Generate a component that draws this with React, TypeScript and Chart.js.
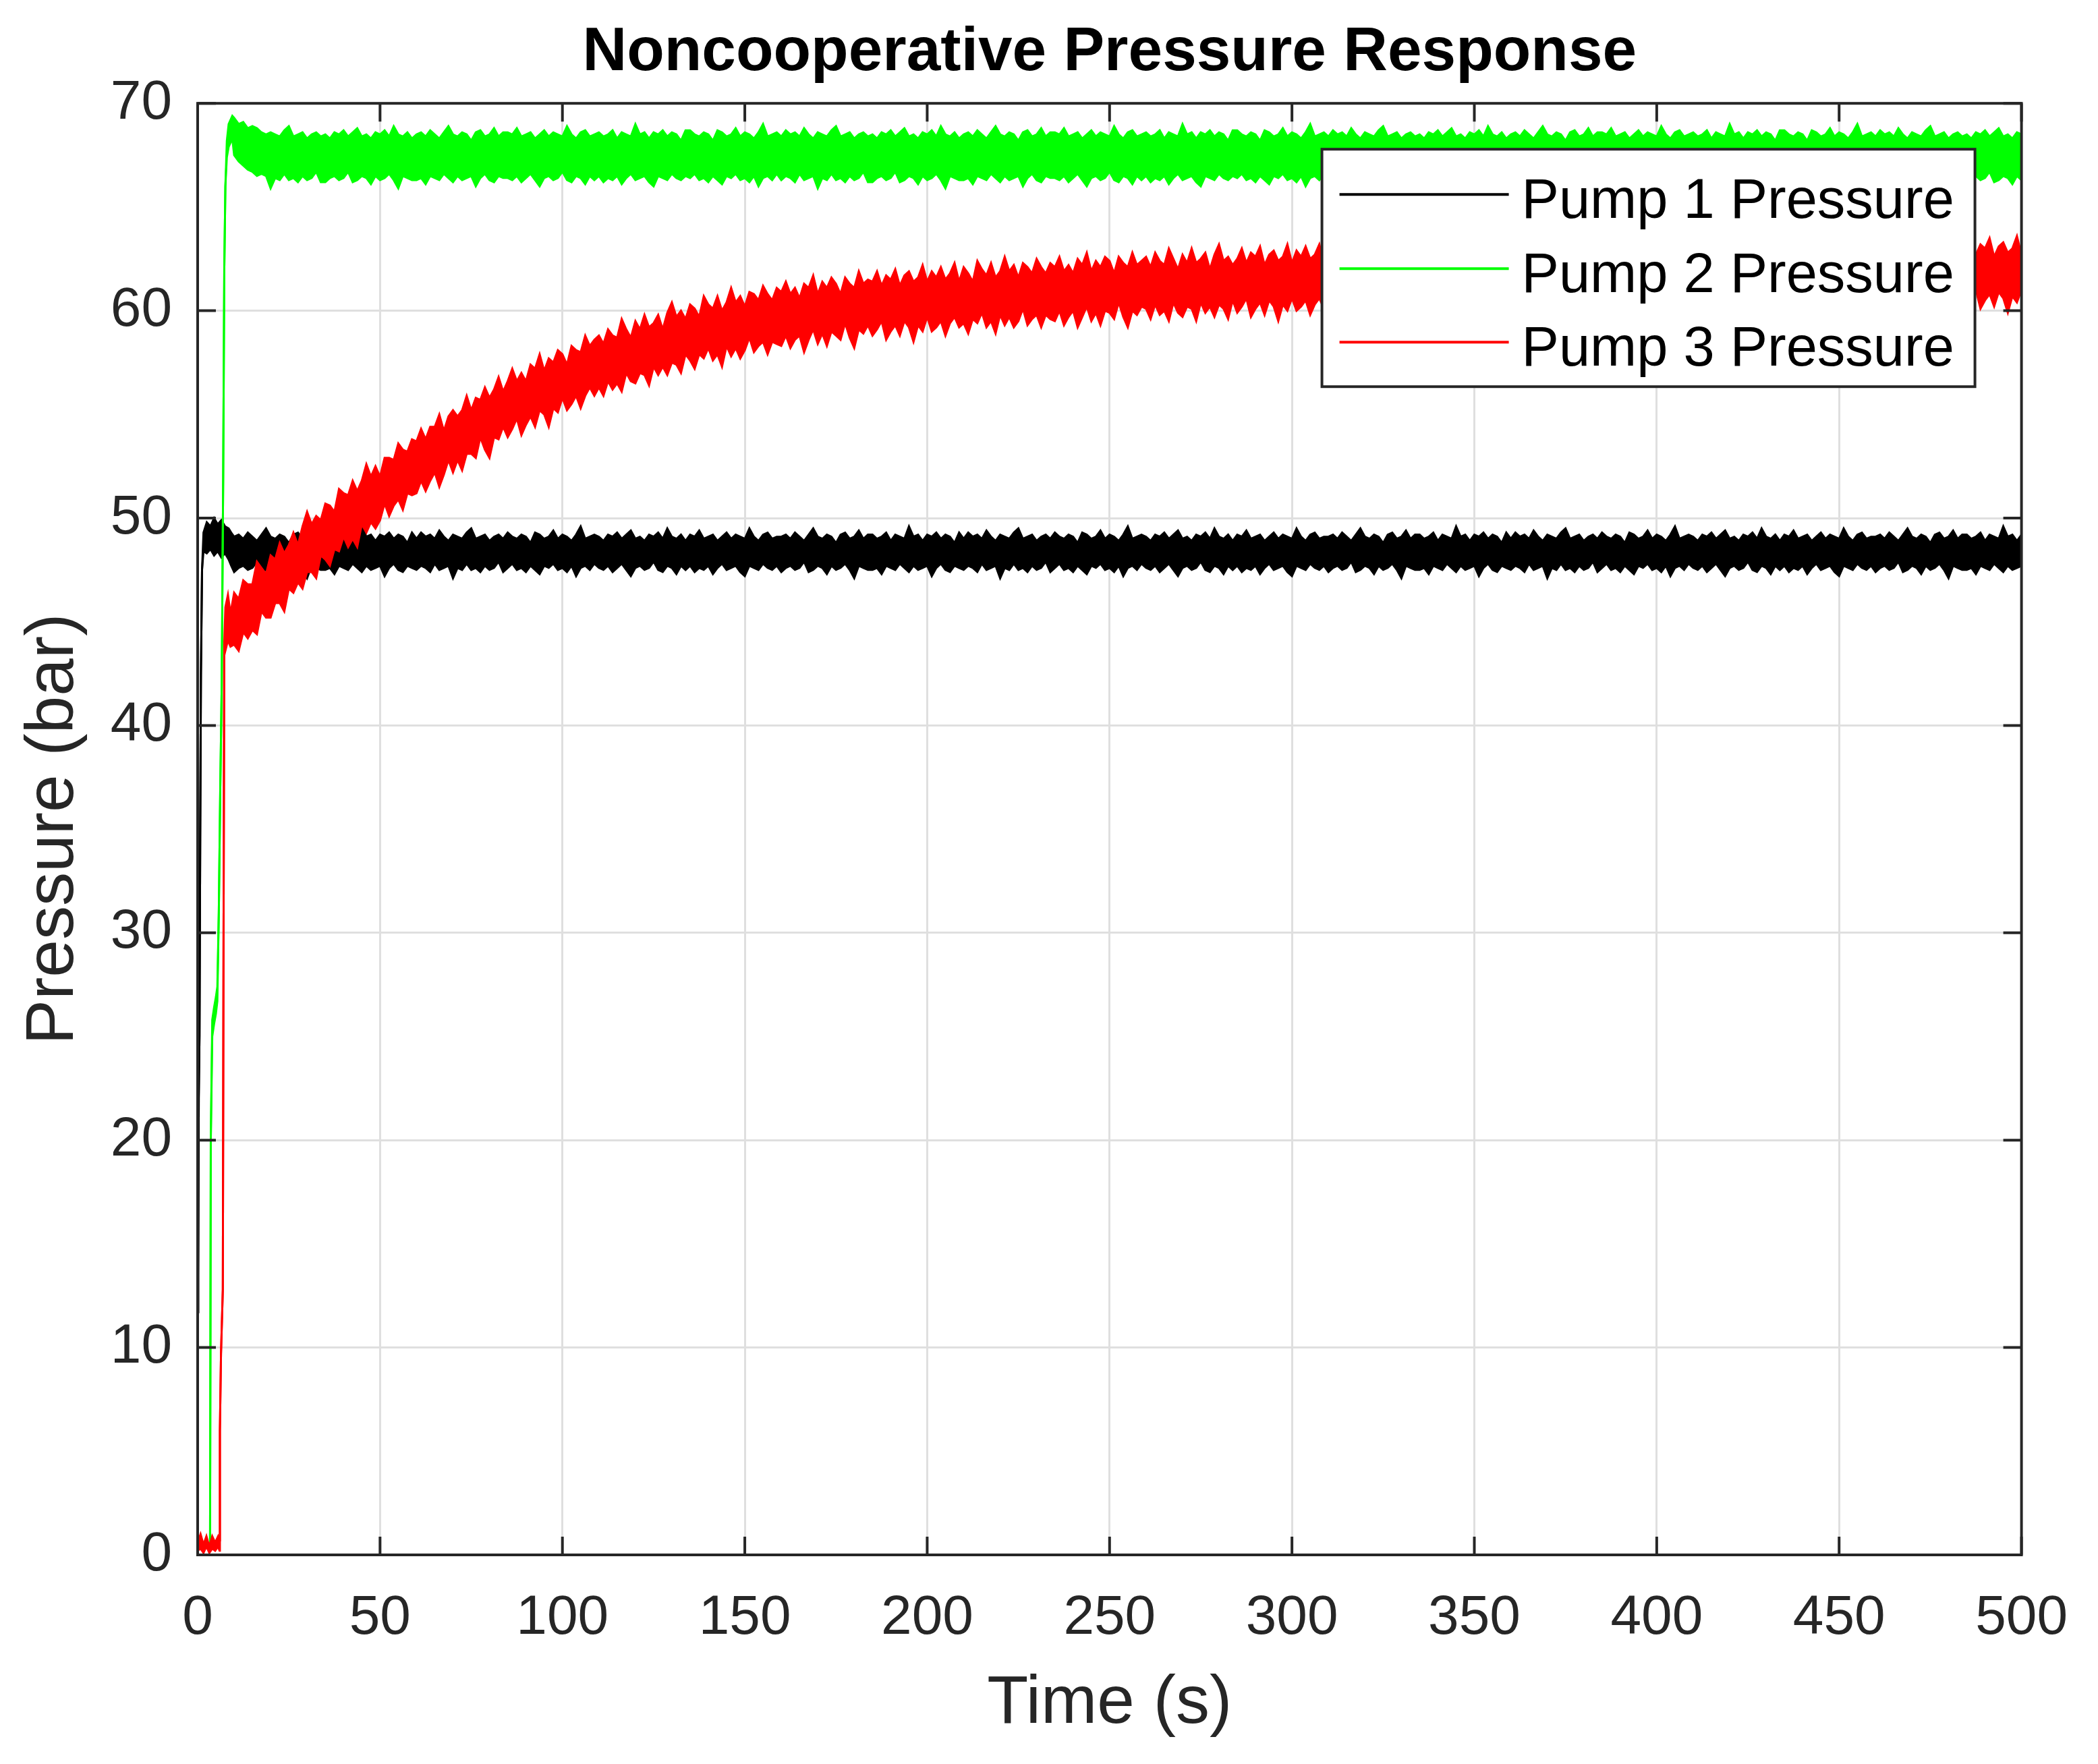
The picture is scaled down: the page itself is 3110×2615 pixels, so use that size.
import { useEffect, useRef } from "react";
import { Chart, registerables } from "chart.js";

Chart.register(...registerables);

const fontFamily = "'Liberation Sans', Arial, Helvetica, sans-serif";
const axisColor = "#262626";
const gridColor = "#dfdfdf";

const seriesNames = ["Pump 1 Pressure", "Pump 2 Pressure", "Pump 3 Pressure"];
const seriesColors = ["#000000", "#00ff00", "#ff0000"];

const xTicks = [0, 50, 100, 150, 200, 250, 300, 350, 400, 450, 500];
const yTicks = [0, 10, 20, 30, 40, 50, 60, 70];

// start-up transients (s, bar): upper / lower edge of the trace
const pump1StartTime = [0, 0.15, 0.3, 0.5, 0.7, 0.9, 1.2, 1.6, 2.5, 3.5, 4.5, 5.5, 6.5, 7.5, 8.5, 9.2];
const pump1StartUpper = [11.7, 13.5, 22, 25, 34.5, 42.5, 47.5, 49.3, 49.8, 49.6, 50.0, 49.7, 49.9, 49.6, 49.5, 49.3];
const pump1StartLower = [11.7, 13.5, 22, 25, 34.5, 42.5, 47.5, 48.4, 48.3, 48.5, 48.2, 48.4, 48.1, 48.3, 48.0, 47.7];

const pump2StartTime = [0, 3.4, 3.6, 4.0, 4.5, 5.0, 5.4, 5.8, 6.2, 6.6, 7.0, 7.3, 7.6, 8.0, 8.5, 9.0, 9.5];
const pump2StartUpper = [0.4, 0.4, 20, 25.8, 26.4, 26.9, 27.4, 31, 37, 42, 52, 62, 66, 68.2, 69.0, 69.2, 69.4];
const pump2StartLower = [0.4, 0.4, 20, 25.0, 25.6, 26.1, 26.7, 31, 37, 42, 52, 62, 66, 67.4, 67.9, 68.1, 68.3];

const pump3StartTime = [0, 0.8, 1.6, 2.4, 3.2, 4.0, 4.8, 5.6, 6.0, 6.1, 6.4, 6.9, 7.1, 7.3, 7.6, 8.3, 9.0];
const pump3StartUpper = [0.6, 1.0, 0.5, 0.9, 0.4, 0.9, 0.6, 0.9, 0.7, 6, 9.7, 12.8, 30, 44, 45.7, 46.3, 45.4];
const pump3StartLower = [0.2, 0.3, 0.1, 0.4, 0.1, 0.3, 0.2, 0.4, 0.2, 6, 9.7, 12.8, 30, 44, 43.6, 44.1, 43.8];

// noisy part, one value every 1.25 s from t = 10 s to t = 500 s (20 values = 25 s per row)
const bandStart = 10;
const bandStep = 1.25;

const pump1Upper = [
  49.1, 49.2, 49.0, 49.3, 49.1, 48.9, 49.2, 49.5, 49.1, 49.0, 49.2, 49.1, 48.8, 49.2, 49.3, 49.0, 49.1, 49.4, 49.0, 49.2,
  49.2, 49.0, 49.1, 49.3, 48.9, 49.2, 49.1, 49.0, 49.6, 49.1, 49.2, 48.9, 49.2, 49.1, 49.3, 49.0, 49.2, 49.1, 48.8, 49.3,
  49.0, 49.3, 49.1, 49.2, 49.0, 49.4, 49.1, 48.9, 49.2, 49.1, 49.0, 49.3, 49.5, 49.0, 49.1, 49.2, 48.9, 49.1, 49.2, 49.0,
  49.3, 49.1, 49.0, 49.2, 49.1, 48.8, 49.3, 49.2, 49.0, 49.1, 49.4, 49.0, 49.2, 49.1, 48.9, 49.2, 49.6, 49.0, 49.1, 49.2,
  49.1, 48.9, 49.2, 49.1, 49.3, 49.0, 49.2, 49.4, 49.0, 49.1, 48.9, 49.2, 49.1, 49.3, 49.0, 49.5, 49.1, 49.0, 49.2, 48.9,
  49.2, 49.1, 49.4, 49.0, 49.1, 49.2, 48.9, 49.1, 49.3, 49.0, 49.2, 49.1, 49.0, 49.5, 49.1, 48.9, 49.2, 49.3, 49.0, 49.1,
  49.1, 49.2, 49.0, 49.3, 49.1, 48.9, 49.2, 49.5, 49.1, 49.0, 49.2, 49.1, 48.8, 49.2, 49.3, 49.0, 49.1, 49.4, 49.0, 49.2,
  49.2, 49.0, 49.1, 49.3, 48.9, 49.2, 49.1, 49.0, 49.6, 49.1, 49.2, 48.9, 49.2, 49.1, 49.3, 49.0, 49.2, 49.1, 48.8, 49.3,
  49.0, 49.3, 49.1, 49.2, 49.0, 49.4, 49.1, 48.9, 49.2, 49.1, 49.0, 49.3, 49.5, 49.0, 49.1, 49.2, 48.9, 49.1, 49.2, 49.0,
  49.3, 49.1, 49.0, 49.2, 49.1, 48.8, 49.3, 49.2, 49.0, 49.1, 49.4, 49.0, 49.2, 49.1, 48.9, 49.2, 49.6, 49.0, 49.1, 49.2,
  49.1, 48.9, 49.2, 49.1, 49.3, 49.0, 49.2, 49.4, 49.0, 49.1, 48.9, 49.2, 49.1, 49.3, 49.0, 49.5, 49.1, 49.0, 49.2, 48.9,
  49.2, 49.1, 49.4, 49.0, 49.1, 49.2, 48.9, 49.1, 49.3, 49.0, 49.2, 49.1, 49.0, 49.5, 49.1, 48.9, 49.2, 49.3, 49.0, 49.1,
  49.1, 49.2, 49.0, 49.3, 49.1, 48.9, 49.2, 49.5, 49.1, 49.0, 49.2, 49.1, 48.8, 49.2, 49.3, 49.0, 49.1, 49.4, 49.0, 49.2,
  49.2, 49.0, 49.1, 49.3, 48.9, 49.2, 49.1, 49.0, 49.6, 49.1, 49.2, 48.9, 49.2, 49.1, 49.3, 49.0, 49.2, 49.1, 48.8, 49.3,
  49.0, 49.3, 49.1, 49.2, 49.0, 49.4, 49.1, 48.9, 49.2, 49.1, 49.0, 49.3, 49.5, 49.0, 49.1, 49.2, 48.9, 49.1, 49.2, 49.0,
  49.3, 49.1, 49.0, 49.2, 49.1, 48.8, 49.3, 49.2, 49.0, 49.1, 49.4, 49.0, 49.2, 49.1, 48.9, 49.2, 49.6, 49.0, 49.1, 49.2,
  49.1, 48.9, 49.2, 49.1, 49.3, 49.0, 49.2, 49.4, 49.0, 49.1, 48.9, 49.2, 49.1, 49.3, 49.0, 49.5, 49.1, 49.0, 49.2, 48.9,
  49.2, 49.1, 49.4, 49.0, 49.1, 49.2, 48.9, 49.1, 49.3, 49.0, 49.2, 49.1, 49.0, 49.5, 49.1, 48.9, 49.2, 49.3, 49.0, 49.1,
  49.1, 49.2, 49.0, 49.3, 49.1, 48.9, 49.2, 49.5, 49.1, 49.0, 49.2, 49.1, 48.8, 49.2, 49.3, 49.0, 49.1, 49.4, 49.0, 49.2,
  49.2, 49.0, 49.1, 49.3, 48.9, 49.2, 49.1, 49.0, 49.6, 49.1, 49.2, 48.9, 49.2,
];
const pump1Lower = [
  47.4, 47.6, 47.7, 47.5, 47.6, 47.9, 47.4, 47.5, 47.7, 47.6, 47.3, 47.7, 47.5, 47.6, 47.8, 47.5, 47.1, 47.7, 47.6, 47.5,
  47.5, 47.6, 47.3, 47.7, 47.6, 47.5, 47.8, 47.6, 47.4, 47.7, 47.5, 47.6, 47.7, 47.2, 47.6, 47.8, 47.5, 47.4, 47.7, 47.6,
  47.5, 47.7, 47.6, 47.4, 47.8, 47.5, 47.6, 47.7, 47.1, 47.6, 47.5, 47.8, 47.5, 47.6, 47.4, 47.7, 47.5, 47.6, 47.9, 47.4,
  47.6, 47.8, 47.5, 47.6, 47.4, 47.7, 47.5, 47.3, 47.7, 47.6, 47.8, 47.5, 47.6, 47.4, 47.7, 47.2, 47.6, 47.7, 47.5, 47.8,
  47.6, 47.5, 47.7, 47.4, 47.6, 47.8, 47.5, 47.2, 47.6, 47.7, 47.5, 47.6, 47.9, 47.5, 47.4, 47.7, 47.6, 47.3, 47.7, 47.5,
  47.7, 47.4, 47.6, 47.5, 47.7, 47.3, 47.6, 47.8, 47.5, 47.6, 47.7, 47.4, 47.2, 47.7, 47.6, 47.5, 47.8, 47.6, 47.5, 47.7,
  47.4, 47.6, 47.7, 47.5, 47.6, 47.9, 47.4, 47.5, 47.7, 47.6, 47.3, 47.7, 47.5, 47.6, 47.8, 47.5, 47.1, 47.7, 47.6, 47.5,
  47.5, 47.6, 47.3, 47.7, 47.6, 47.5, 47.8, 47.6, 47.4, 47.7, 47.5, 47.6, 47.7, 47.2, 47.6, 47.8, 47.5, 47.4, 47.7, 47.6,
  47.5, 47.7, 47.6, 47.4, 47.8, 47.5, 47.6, 47.7, 47.1, 47.6, 47.5, 47.8, 47.5, 47.6, 47.4, 47.7, 47.5, 47.6, 47.9, 47.4,
  47.6, 47.8, 47.5, 47.6, 47.4, 47.7, 47.5, 47.3, 47.7, 47.6, 47.8, 47.5, 47.6, 47.4, 47.7, 47.2, 47.6, 47.7, 47.5, 47.8,
  47.6, 47.5, 47.7, 47.4, 47.6, 47.8, 47.5, 47.2, 47.6, 47.7, 47.5, 47.6, 47.9, 47.5, 47.4, 47.7, 47.6, 47.3, 47.7, 47.5,
  47.7, 47.4, 47.6, 47.5, 47.7, 47.3, 47.6, 47.8, 47.5, 47.6, 47.7, 47.4, 47.2, 47.7, 47.6, 47.5, 47.8, 47.6, 47.5, 47.7,
  47.4, 47.6, 47.7, 47.5, 47.6, 47.9, 47.4, 47.5, 47.7, 47.6, 47.3, 47.7, 47.5, 47.6, 47.8, 47.5, 47.1, 47.7, 47.6, 47.5,
  47.5, 47.6, 47.3, 47.7, 47.6, 47.5, 47.8, 47.6, 47.4, 47.7, 47.5, 47.6, 47.7, 47.2, 47.6, 47.8, 47.5, 47.4, 47.7, 47.6,
  47.5, 47.7, 47.6, 47.4, 47.8, 47.5, 47.6, 47.7, 47.1, 47.6, 47.5, 47.8, 47.5, 47.6, 47.4, 47.7, 47.5, 47.6, 47.9, 47.4,
  47.6, 47.8, 47.5, 47.6, 47.4, 47.7, 47.5, 47.3, 47.7, 47.6, 47.8, 47.5, 47.6, 47.4, 47.7, 47.2, 47.6, 47.7, 47.5, 47.8,
  47.6, 47.5, 47.7, 47.4, 47.6, 47.8, 47.5, 47.2, 47.6, 47.7, 47.5, 47.6, 47.9, 47.5, 47.4, 47.7, 47.6, 47.3, 47.7, 47.5,
  47.7, 47.4, 47.6, 47.5, 47.7, 47.3, 47.6, 47.8, 47.5, 47.6, 47.7, 47.4, 47.2, 47.7, 47.6, 47.5, 47.8, 47.6, 47.5, 47.7,
  47.4, 47.6, 47.7, 47.5, 47.6, 47.9, 47.4, 47.5, 47.7, 47.6, 47.3, 47.7, 47.5, 47.6, 47.8, 47.5, 47.1, 47.7, 47.6, 47.5,
  47.5, 47.6, 47.3, 47.7, 47.6, 47.5, 47.8, 47.6, 47.4, 47.7, 47.5, 47.6, 47.7,
];

const pump2Upper = [
  69.3, 69.0, 69.1, 68.8, 68.9, 68.8, 68.6, 68.5, 68.6, 68.5, 68.4, 68.7, 68.9, 68.4, 68.5, 68.6, 68.3, 68.5, 68.6, 68.4,
  68.5, 68.3, 68.6, 68.5, 68.7, 68.4, 68.6, 68.8, 68.4, 68.5, 68.3, 68.6, 68.5, 68.7, 68.4, 68.9, 68.5, 68.4, 68.6, 68.3,
  68.5, 68.6, 68.4, 68.7, 68.5, 68.3, 68.6, 68.9, 68.5, 68.4, 68.6, 68.5, 68.2, 68.6, 68.7, 68.4, 68.5, 68.8, 68.4, 68.6,
  68.6, 68.5, 68.8, 68.4, 68.5, 68.6, 68.3, 68.5, 68.7, 68.4, 68.6, 68.5, 68.4, 68.9, 68.5, 68.3, 68.6, 68.7, 68.4, 68.5,
  68.6, 68.4, 68.5, 68.7, 68.3, 68.6, 68.5, 68.4, 69.0, 68.5, 68.6, 68.3, 68.6, 68.5, 68.7, 68.4, 68.6, 68.5, 68.2, 68.7,
  68.7, 68.5, 68.4, 68.6, 68.5, 68.2, 68.7, 68.6, 68.4, 68.5, 68.8, 68.4, 68.6, 68.5, 68.3, 68.6, 69.0, 68.4, 68.5, 68.6,
  68.4, 68.7, 68.5, 68.6, 68.4, 68.8, 68.5, 68.3, 68.6, 68.5, 68.4, 68.7, 68.9, 68.4, 68.5, 68.6, 68.3, 68.5, 68.6, 68.4,
  68.5, 68.3, 68.6, 68.5, 68.7, 68.4, 68.6, 68.8, 68.4, 68.5, 68.3, 68.6, 68.5, 68.7, 68.4, 68.9, 68.5, 68.4, 68.6, 68.3,
  68.5, 68.6, 68.4, 68.7, 68.5, 68.3, 68.6, 68.9, 68.5, 68.4, 68.6, 68.5, 68.2, 68.6, 68.7, 68.4, 68.5, 68.8, 68.4, 68.6,
  68.6, 68.5, 68.8, 68.4, 68.5, 68.6, 68.3, 68.5, 68.7, 68.4, 68.6, 68.5, 68.4, 68.9, 68.5, 68.3, 68.6, 68.7, 68.4, 68.5,
  68.6, 68.4, 68.5, 68.7, 68.3, 68.6, 68.5, 68.4, 69.0, 68.5, 68.6, 68.3, 68.6, 68.5, 68.7, 68.4, 68.6, 68.5, 68.2, 68.7,
  68.7, 68.5, 68.4, 68.6, 68.5, 68.2, 68.7, 68.6, 68.4, 68.5, 68.8, 68.4, 68.6, 68.5, 68.3, 68.6, 69.0, 68.4, 68.5, 68.6,
  68.4, 68.7, 68.5, 68.6, 68.4, 68.8, 68.5, 68.3, 68.6, 68.5, 68.4, 68.7, 68.9, 68.4, 68.5, 68.6, 68.3, 68.5, 68.6, 68.4,
  68.5, 68.3, 68.6, 68.5, 68.7, 68.4, 68.6, 68.8, 68.4, 68.5, 68.3, 68.6, 68.5, 68.7, 68.4, 68.9, 68.5, 68.4, 68.6, 68.3,
  68.5, 68.6, 68.4, 68.7, 68.5, 68.3, 68.6, 68.9, 68.5, 68.4, 68.6, 68.5, 68.2, 68.6, 68.7, 68.4, 68.5, 68.8, 68.4, 68.6,
  68.6, 68.5, 68.8, 68.4, 68.5, 68.6, 68.3, 68.5, 68.7, 68.4, 68.6, 68.5, 68.4, 68.9, 68.5, 68.3, 68.6, 68.7, 68.4, 68.5,
  68.6, 68.4, 68.5, 68.7, 68.3, 68.6, 68.5, 68.4, 69.0, 68.5, 68.6, 68.3, 68.6, 68.5, 68.7, 68.4, 68.6, 68.5, 68.2, 68.7,
  68.7, 68.5, 68.4, 68.6, 68.5, 68.2, 68.7, 68.6, 68.4, 68.5, 68.8, 68.4, 68.6, 68.5, 68.3, 68.6, 69.0, 68.4, 68.5, 68.6,
  68.4, 68.7, 68.5, 68.6, 68.4, 68.8, 68.5, 68.3, 68.6, 68.5, 68.4, 68.7, 68.9, 68.4, 68.5, 68.6, 68.3, 68.5, 68.6, 68.4,
  68.5, 68.3, 68.6, 68.5, 68.7, 68.4, 68.6, 68.8, 68.4, 68.5, 68.3, 68.6, 68.5,
];
const pump2Lower = [
  67.5, 67.2, 67.0, 66.8, 66.7, 66.5, 66.6, 66.5, 65.9, 66.4, 66.3, 66.6, 66.3, 66.4, 66.2, 66.5, 66.3, 66.4, 66.7, 66.2,
  66.2, 66.4, 66.5, 66.3, 66.4, 66.7, 66.2, 66.3, 66.5, 66.4, 66.1, 66.5, 66.3, 66.4, 66.6, 66.3, 65.9, 66.5, 66.4, 66.3,
  66.3, 66.4, 66.1, 66.5, 66.4, 66.3, 66.6, 66.4, 66.2, 66.5, 66.3, 66.4, 66.5, 66.0, 66.4, 66.6, 66.3, 66.2, 66.5, 66.4,
  66.4, 66.3, 66.5, 66.2, 66.4, 66.6, 66.3, 66.0, 66.4, 66.5, 66.3, 66.4, 66.7, 66.3, 66.2, 66.5, 66.4, 66.1, 66.5, 66.3,
  66.5, 66.2, 66.4, 66.3, 66.5, 66.1, 66.4, 66.6, 66.3, 66.4, 66.5, 66.2, 66.0, 66.5, 66.4, 66.3, 66.6, 66.4, 66.3, 66.5,
  66.4, 66.6, 66.3, 66.4, 66.2, 66.5, 66.3, 66.1, 66.5, 66.4, 66.6, 66.3, 66.4, 66.2, 66.5, 66.0, 66.4, 66.5, 66.3, 66.6,
  66.3, 66.5, 66.4, 66.2, 66.6, 66.3, 66.4, 66.5, 65.9, 66.4, 66.3, 66.6, 66.3, 66.4, 66.2, 66.5, 66.3, 66.4, 66.7, 66.2,
  66.2, 66.4, 66.5, 66.3, 66.4, 66.7, 66.2, 66.3, 66.5, 66.4, 66.1, 66.5, 66.3, 66.4, 66.6, 66.3, 65.9, 66.5, 66.4, 66.3,
  66.3, 66.4, 66.1, 66.5, 66.4, 66.3, 66.6, 66.4, 66.2, 66.5, 66.3, 66.4, 66.5, 66.0, 66.4, 66.6, 66.3, 66.2, 66.5, 66.4,
  66.4, 66.3, 66.5, 66.2, 66.4, 66.6, 66.3, 66.0, 66.4, 66.5, 66.3, 66.4, 66.7, 66.3, 66.2, 66.5, 66.4, 66.1, 66.5, 66.3,
  66.5, 66.2, 66.4, 66.3, 66.5, 66.1, 66.4, 66.6, 66.3, 66.4, 66.5, 66.2, 66.0, 66.5, 66.4, 66.3, 66.6, 66.4, 66.3, 66.5,
  66.4, 66.6, 66.3, 66.4, 66.2, 66.5, 66.3, 66.1, 66.5, 66.4, 66.6, 66.3, 66.4, 66.2, 66.5, 66.0, 66.4, 66.5, 66.3, 66.6,
  66.3, 66.5, 66.4, 66.2, 66.6, 66.3, 66.4, 66.5, 65.9, 66.4, 66.3, 66.6, 66.3, 66.4, 66.2, 66.5, 66.3, 66.4, 66.7, 66.2,
  66.2, 66.4, 66.5, 66.3, 66.4, 66.7, 66.2, 66.3, 66.5, 66.4, 66.1, 66.5, 66.3, 66.4, 66.6, 66.3, 65.9, 66.5, 66.4, 66.3,
  66.3, 66.4, 66.1, 66.5, 66.4, 66.3, 66.6, 66.4, 66.2, 66.5, 66.3, 66.4, 66.5, 66.0, 66.4, 66.6, 66.3, 66.2, 66.5, 66.4,
  66.4, 66.3, 66.5, 66.2, 66.4, 66.6, 66.3, 66.0, 66.4, 66.5, 66.3, 66.4, 66.7, 66.3, 66.2, 66.5, 66.4, 66.1, 66.5, 66.3,
  66.5, 66.2, 66.4, 66.3, 66.5, 66.1, 66.4, 66.6, 66.3, 66.4, 66.5, 66.2, 66.0, 66.5, 66.4, 66.3, 66.6, 66.4, 66.3, 66.5,
  66.4, 66.6, 66.3, 66.4, 66.2, 66.5, 66.3, 66.1, 66.5, 66.4, 66.6, 66.3, 66.4, 66.2, 66.5, 66.0, 66.4, 66.5, 66.3, 66.6,
  66.3, 66.5, 66.4, 66.2, 66.6, 66.3, 66.4, 66.5, 65.9, 66.4, 66.3, 66.6, 66.3, 66.4, 66.2, 66.5, 66.3, 66.4, 66.7, 66.2,
  66.2, 66.4, 66.5, 66.3, 66.4, 66.7, 66.2, 66.3, 66.5, 66.4, 66.1, 66.5, 66.3,
];

const pump3Upper = [
  46.4, 46.1, 47.0, 46.8, 46.8, 47.9, 47.6, 47.3, 48.2, 48.0, 48.8, 48.3, 48.7, 49.3, 48.7, 49.6, 50.3, 49.7, 50.1, 49.9,
  50.7, 50.6, 50.3, 51.4, 51.2, 51.1, 51.8, 51.3, 51.8, 52.6, 52.0, 52.5, 52.0, 52.9, 52.9, 52.8, 53.6, 53.3, 53.2, 53.8,
  53.7, 54.3, 53.8, 54.4, 54.4, 55.0, 54.2, 54.9, 55.2, 54.9, 55.2, 55.9, 55.2, 55.8, 55.7, 56.3, 55.8, 56.2, 56.8, 56.1,
  56.6, 57.2, 56.6, 57.0, 56.6, 57.4, 57.2, 57.9, 57.1, 57.7, 57.5, 58.1, 57.9, 57.4, 58.3, 58.1, 58.0, 58.8, 58.3, 58.6,
  58.8, 58.4, 59.1, 58.8, 58.7, 59.6, 59.1, 58.7, 59.5, 59.1, 59.8, 59.2, 59.4, 59.8, 59.1, 59.9, 60.4, 59.7, 60.0, 59.6,
  60.3, 60.1, 59.7, 60.7, 60.3, 60.1, 60.7, 60.0, 60.4, 61.1, 60.4, 60.7, 60.2, 60.9, 60.8, 60.5, 61.2, 60.8, 60.5, 61.1,
  60.9, 61.4, 60.8, 61.1, 60.6, 61.3, 61.1, 61.7, 60.8, 61.4, 61.1, 61.6, 61.3, 60.8, 61.6, 61.3, 61.1, 61.9, 61.3, 61.5,
  61.4, 61.9, 61.2, 61.7, 61.5, 62.0, 61.2, 61.7, 61.9, 61.4, 61.6, 62.2, 61.4, 61.9, 61.6, 62.1, 61.5, 61.8, 62.3, 61.4,
  62.1, 61.8, 61.4, 62.4, 62.0, 61.7, 62.3, 61.6, 61.9, 62.6, 61.9, 62.2, 61.6, 62.3, 62.1, 61.8, 62.5, 62.1, 61.8, 62.3,
  62.1, 62.6, 61.9, 62.2, 61.8, 62.5, 62.2, 62.8, 61.9, 62.4, 62.1, 62.6, 62.4, 61.8, 62.6, 62.3, 62.1, 62.8, 62.2, 62.4,
  62.6, 62.1, 62.8, 62.4, 62.2, 63.0, 62.5, 62.0, 62.7, 62.3, 63.0, 62.3, 62.5, 62.8, 62.0, 62.7, 63.2, 62.4, 62.6, 62.2,
  62.5, 63.0, 62.3, 62.8, 62.6, 63.1, 62.2, 62.7, 62.9, 62.4, 62.6, 63.2, 62.3, 62.9, 62.6, 63.1, 62.5, 62.7, 63.2, 62.3,
  63.0, 62.7, 62.3, 63.2, 62.8, 62.5, 63.1, 62.4, 62.7, 63.4, 62.6, 62.9, 62.3, 63.0, 62.8, 62.5, 63.2, 62.7, 62.4, 62.9,
  62.8, 63.3, 62.6, 62.9, 62.4, 63.1, 62.8, 63.4, 62.5, 63.0, 62.7, 63.2, 62.9, 62.3, 63.1, 62.8, 62.6, 63.3, 62.7, 62.9,
  63.0, 62.5, 63.2, 62.8, 62.6, 63.4, 62.9, 62.4, 63.1, 62.7, 63.3, 62.6, 62.8, 63.1, 62.3, 63.0, 63.5, 62.7, 62.9, 62.5,
  62.8, 63.3, 62.6, 63.1, 62.9, 63.4, 62.5, 63.0, 63.2, 62.7, 62.9, 63.5, 62.6, 63.1, 62.8, 63.3, 62.7, 62.9, 63.4, 62.5,
  63.2, 62.9, 62.5, 63.4, 63.0, 62.7, 63.3, 62.6, 62.9, 63.6, 62.8, 63.1, 62.5, 63.2, 63.0, 62.7, 63.4, 62.9, 62.6, 63.1,
  63.0, 63.5, 62.8, 63.1, 62.6, 63.3, 63.0, 63.6, 62.7, 63.2, 62.9, 63.4, 63.1, 62.5, 63.3, 63.0, 62.8, 63.5, 62.9, 63.1,
  63.2, 62.7, 63.4, 63.0, 62.8, 63.6, 63.1, 62.6, 63.3, 62.9, 63.5, 62.8, 63.0, 63.3, 62.5, 63.2, 63.7, 62.9, 63.1, 62.7,
  62.9, 63.4, 62.7, 63.2, 63.0, 63.5, 62.6, 63.1, 63.3, 62.8, 63.0, 63.6, 62.7,
];
const pump3Lower = [
  43.9, 43.6, 44.5, 44.2, 44.6, 44.4, 45.5, 45.2, 45.2, 45.9, 45.9, 45.5, 46.6, 46.4, 46.9, 46.6, 47.4, 47.4, 47.1, 48.2,
  48.0, 47.7, 48.5, 48.4, 49.1, 48.6, 49.0, 48.6, 49.7, 49.3, 49.8, 49.5, 49.9, 50.7, 50.1, 50.6, 50.9, 50.4, 51.2, 51.1,
  51.2, 51.8, 51.3, 51.8, 52.2, 51.5, 52.1, 52.8, 52.2, 52.8, 52.3, 53.1, 53.1, 52.9, 53.9, 53.3, 52.9, 53.9, 53.8, 54.4,
  53.9, 54.3, 54.8, 54.0, 54.5, 54.9, 54.4, 55.2, 55.0, 54.4, 55.3, 55.1, 55.8, 55.2, 55.5, 55.9, 55.3, 55.9, 56.3, 55.9,
  56.3, 55.9, 56.6, 56.2, 56.5, 56.1, 57.0, 56.6, 56.5, 57.0, 56.9, 56.4, 57.3, 56.9, 57.3, 56.9, 57.5, 57.4, 57.0, 57.9,
  57.6, 57.2, 57.9, 57.7, 58.2, 57.6, 57.9, 57.3, 58.3, 57.8, 58.2, 57.7, 58.1, 58.7, 58.0, 58.3, 58.5, 57.9, 58.5, 58.4,
  58.3, 58.8, 58.2, 58.6, 58.8, 58.0, 58.6, 59.1, 58.4, 58.9, 58.3, 59.0, 58.8, 58.6, 59.4, 58.7, 58.2, 59.1, 58.9, 59.3,
  58.8, 59.1, 59.5, 58.6, 59.0, 59.3, 58.8, 59.5, 59.2, 58.5, 59.3, 59.0, 59.7, 59.0, 59.2, 59.5, 58.8, 59.4, 59.7, 59.2,
  59.4, 58.9, 59.6, 59.4, 59.9, 59.2, 59.5, 58.9, 59.8, 59.3, 59.7, 59.2, 59.5, 60.1, 59.3, 59.6, 59.8, 59.2, 59.8, 59.6,
  59.5, 60.0, 59.3, 59.7, 60.0, 59.2, 59.7, 60.2, 59.5, 59.9, 59.3, 60.0, 59.9, 59.6, 60.4, 59.7, 59.2, 60.0, 59.8, 60.2,
  60.1, 59.6, 60.3, 59.8, 60.0, 59.5, 60.4, 59.9, 59.7, 60.2, 60.1, 59.5, 60.4, 59.9, 60.2, 59.7, 60.3, 60.1, 59.6, 60.5,
  59.9, 60.2, 60.6, 59.7, 60.1, 60.4, 59.8, 60.5, 60.2, 59.5, 60.3, 60.0, 60.6, 60.0, 60.2, 60.5, 59.8, 60.3, 60.6, 60.1,
  60.3, 59.8, 60.5, 60.2, 60.7, 60.0, 60.3, 59.7, 60.6, 60.1, 60.4, 59.9, 60.2, 60.8, 60.0, 60.3, 60.5, 59.8, 60.4, 60.2,
  60.2, 60.7, 60.0, 60.4, 60.6, 59.8, 60.3, 60.8, 60.1, 60.5, 59.9, 60.6, 60.4, 60.1, 60.9, 60.2, 59.7, 60.5, 60.3, 60.7,
  60.5, 60.0, 60.7, 60.2, 60.4, 59.9, 60.8, 60.3, 60.1, 60.6, 60.4, 59.8, 60.7, 60.2, 60.5, 60.0, 60.6, 60.4, 59.9, 60.8,
  60.2, 60.5, 60.9, 60.0, 60.4, 60.7, 60.1, 60.8, 60.5, 59.8, 60.6, 60.3, 60.9, 60.2, 60.4, 60.7, 60.0, 60.5, 60.8, 60.3,
  60.5, 60.0, 60.7, 60.4, 60.9, 60.2, 60.5, 59.9, 60.8, 60.3, 60.6, 60.1, 60.4, 61.0, 60.2, 60.5, 60.7, 60.0, 60.6, 60.4,
  60.4, 60.9, 60.2, 60.6, 60.8, 60.0, 60.5, 61.0, 60.3, 60.7, 60.1, 60.8, 60.6, 60.3, 61.1, 60.4, 59.9, 60.7, 60.5, 60.9,
  60.7, 60.2, 60.9, 60.4, 60.6, 60.1, 61.0, 60.5, 60.3, 60.8, 60.6, 60.0, 60.9, 60.4, 60.7, 60.2, 60.8, 60.6, 60.1, 61.0,
  60.3, 60.6, 61.0, 60.1, 60.5, 60.8, 60.2, 60.9, 60.6, 59.9, 60.7, 60.4, 61.0,
];

function tracePoints(startTime: number[], startValues: number[], bandValues: number[]) {
  const pts = startTime.map((t, i) => ({ x: t, y: startValues[i] }));
  bandValues.forEach((v, i) => pts.push({ x: bandStart + i * bandStep, y: v }));
  return pts;
}

const traces = [
  {
    upper: tracePoints(pump1StartTime, pump1StartUpper, pump1Upper),
    lower: tracePoints(pump1StartTime, pump1StartLower, pump1Lower),
  },
  {
    upper: tracePoints(pump2StartTime, pump2StartUpper, pump2Upper),
    lower: tracePoints(pump2StartTime, pump2StartLower, pump2Lower),
  },
  {
    upper: tracePoints(pump3StartTime, pump3StartUpper, pump3Upper),
    lower: tracePoints(pump3StartTime, pump3StartLower, pump3Lower),
  },
];

const tickLen = 27;

// MATLAB style box: frame plus inward ticks on all four sides
const axesBoxPlugin = {
  id: "axesBox",
  afterDatasetsDraw(chart: any) {
    const { ctx, chartArea, scales } = chart;
    const { left, right, top, bottom } = chartArea;
    ctx.save();
    ctx.strokeStyle = axisColor;
    ctx.lineWidth = 4;
    ctx.beginPath();
    xTicks.forEach((v) => {
      const px = scales.x.getPixelForValue(v);
      ctx.moveTo(px, bottom);
      ctx.lineTo(px, bottom - tickLen);
      ctx.moveTo(px, top);
      ctx.lineTo(px, top + tickLen);
    });
    yTicks.forEach((v) => {
      const py = scales.y.getPixelForValue(v);
      ctx.moveTo(left, py);
      ctx.lineTo(left + tickLen, py);
      ctx.moveTo(right, py);
      ctx.lineTo(right - tickLen, py);
    });
    ctx.stroke();
    ctx.strokeRect(left, top, right - left, bottom - top);
    ctx.restore();
  },
};

// legend box in the upper right corner of the axes
const boxLegendPlugin = {
  id: "boxLegend",
  afterDraw(chart: any) {
    const { ctx, chartArea } = chart;
    const w = 968;
    const h = 352;
    const x0 = chartArea.right - 69 - w;
    const y0 = chartArea.top + 68;
    const rows = [67, 177, 286];
    ctx.save();
    ctx.fillStyle = "#ffffff";
    ctx.fillRect(x0, y0, w, h);
    ctx.strokeStyle = axisColor;
    ctx.lineWidth = 4;
    ctx.strokeRect(x0, y0, w, h);
    ctx.font = `83px ${fontFamily}`;
    ctx.textAlign = "left";
    ctx.textBaseline = "alphabetic";
    seriesNames.forEach((name, i) => {
      const ry = y0 + rows[i];
      ctx.strokeStyle = seriesColors[i];
      ctx.lineWidth = 4;
      ctx.beginPath();
      ctx.moveTo(x0 + 26, ry);
      ctx.lineTo(x0 + 277, ry);
      ctx.stroke();
      ctx.fillStyle = "#000000";
      ctx.fillText(name, x0 + 296, ry + 35);
    });
    ctx.restore();
  },
};

export default function App() {
  const canvasRef = useRef<HTMLCanvasElement | null>(null);

  useEffect(() => {
    document.body.style.margin = "0";
    if (!canvasRef.current) return;

    const datasets: any[] = [];
    traces.forEach((tr, k) => {
      const common = {
        borderColor: seriesColors[k],
        backgroundColor: seriesColors[k],
        borderWidth: 3,
        pointRadius: 0,
        tension: 0,
        order: 3 - k,
      };
      datasets.push({ ...common, label: seriesNames[k], data: tr.upper, fill: "+1" });
      datasets.push({ ...common, label: seriesNames[k] + " (lower)", data: tr.lower, fill: false });
    });

    const chart = new Chart(canvasRef.current, {
      type: "line",
      data: { datasets },
      options: {
        animation: false,
        responsive: false,
        devicePixelRatio: 1,
        layout: { padding: { left: 0, right: 94, top: 0, bottom: 0 } },
        plugins: {
          legend: { display: false },
          tooltip: { enabled: false },
          title: {
            display: true,
            fullSize: false,
            text: "Noncooperative Pressure Response",
            color: "#000000",
            font: { family: fontFamily, size: 91, weight: "bold", lineHeight: 1.2 },
            padding: { top: 24, bottom: 20 },
          },
        },
        scales: {
          x: {
            type: "linear",
            min: 0,
            max: 500,
            afterBuildTicks: (s: any) => {
              s.ticks = xTicks.map((v) => ({ value: v }));
            },
            afterFit: (s: any) => {
              s.height = 310;
            },
            ticks: {
              autoSkip: false,
              maxRotation: 0,
              padding: 45,
              color: axisColor,
              font: { family: fontFamily, size: 82, lineHeight: 1.2 },
            },
            grid: { color: gridColor, lineWidth: 3, drawTicks: false },
            border: { display: false },
            title: {
              display: true,
              text: "Time (s)",
              color: axisColor,
              font: { family: fontFamily, size: 100, lineHeight: 1.2 },
              padding: { top: 0, bottom: 29 },
            },
          },
          y: {
            type: "linear",
            min: 0,
            max: 70,
            afterBuildTicks: (s: any) => {
              s.ticks = yTicks.map((v) => ({ value: v }));
            },
            afterFit: (s: any) => {
              s.width = 293;
            },
            ticks: {
              autoSkip: false,
              padding: 38,
              color: axisColor,
              font: { family: fontFamily, size: 82, lineHeight: 1.2 },
            },
            grid: { color: gridColor, lineWidth: 3, drawTicks: false },
            border: { display: false },
            title: {
              display: true,
              text: "Pressure (bar)",
              color: axisColor,
              font: { family: fontFamily, size: 100, lineHeight: 1.2 },
              padding: { top: 20, bottom: 0 },
            },
          },
        },
      },
      plugins: [axesBoxPlugin, boxLegendPlugin],
    });

    return () => chart.destroy();
  }, []);

  return (
    <div style={{ width: 3110, height: 2615, background: "#ffffff" }}>
      <canvas ref={canvasRef} width={3110} height={2615} style={{ display: "block" }} />
    </div>
  );
}
